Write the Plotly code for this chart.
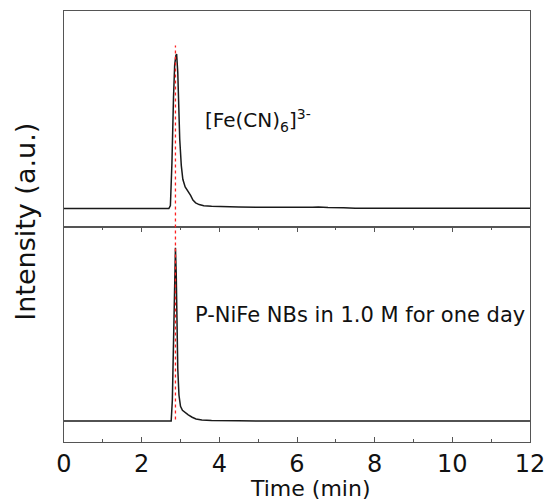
import plotly.graph_objects as go
from plotly.subplots import make_subplots

# Chromatogram of the ferricyanide reference (normalised intensity)
time_ref = [0.0, 2.70, 2.74, 2.78, 2.82, 2.85, 2.88, 2.90, 2.93, 2.96, 2.98, 3.02, 3.06,
            3.12, 3.17, 3.21, 3.26, 3.32, 3.39, 3.48, 3.60, 3.80, 4.00, 4.50, 5.00,
            5.50, 6.00, 6.40, 6.55, 6.65, 6.80, 7.20, 7.40, 7.50, 9.00, 12.0]
int_ref = [0.0, 0.0, 0.02, 0.30, 0.72, 0.93, 0.99, 1.0, 0.88, 0.62, 0.45, 0.28, 0.19,
           0.14, 0.12, 0.11, 0.085, 0.055, 0.037, 0.026, 0.019, 0.015, 0.013, 0.010, 0.008,
           0.007, 0.007, 0.008, 0.011, 0.008, 0.007, 0.006, 0.005, 0.002, 0.002, 0.002]

# Chromatogram of P-NiFe NBs after one day in 1.0 M electrolyte
time_sample = [0.0, 2.76, 2.79, 2.82, 2.85, 2.87, 2.89, 2.91, 2.93, 2.96, 3.00, 3.05,
               3.12, 3.20, 3.30, 3.40, 3.55, 3.80, 4.50, 12.0]
int_sample = [0.0, 0.0, 0.12, 0.55, 0.92, 1.0, 0.85, 0.55, 0.30, 0.15, 0.085, 0.062,
              0.048, 0.036, 0.022, 0.012, 0.006, 0.003, 0.001, 0.0]

peak_time = 2.87

x_ticks = [0, 2, 4, 6, 8, 10, 12]

FONT = "DejaVu Sans, Verdana, sans-serif"
TEXT_COLOR = "#111111"
AXIS_COLOR = "#555555"

fig = make_subplots(rows=2, cols=1, shared_xaxes=True, vertical_spacing=0)

fig.add_trace(go.Scatter(x=time_ref, y=int_ref, mode="lines",
                         line=dict(color="#1a1a1a", width=1.5), showlegend=False),
              row=1, col=1)
fig.add_trace(go.Scatter(x=time_sample, y=int_sample, mode="lines",
                         line=dict(color="#1a1a1a", width=1.5), showlegend=False),
              row=2, col=1)

# Retention-time marker through both panels
fig.add_shape(type="line", xref="x", yref="paper", x0=peak_time, x1=peak_time,
              y0=0.052, y1=0.92, layer="above",
              line=dict(color="#ff2020", width=1.3, dash="dot"))

fig.add_annotation(x=3.57, y=0.57, xref="x", yref="y", xanchor="left", yanchor="middle",
                   text="[Fe(CN)<sub>6</sub>]<sup>3-</sup>", showarrow=False,
                   font=dict(family=FONT, size=20, color=TEXT_COLOR))
fig.add_annotation(x=3.33, y=0.61, xref="x2", yref="y2", xanchor="left", yanchor="middle",
                   text="P-NiFe NBs in 1.0 M for one day", showarrow=False,
                   font=dict(family=FONT, size=21, color=TEXT_COLOR))

common_x = dict(range=[0, 12], showline=True, linecolor=AXIS_COLOR, linewidth=1,
                showgrid=False, zeroline=False, automargin=False)
fig.update_xaxes(common_x, row=1, col=1, ticks="", showticklabels=False, mirror=True)
fig.update_xaxes(common_x, row=2, col=1, mirror="ticks", ticks="inside", ticklen=5,
                 tickwidth=1, tickcolor=AXIS_COLOR, tickvals=x_ticks,
                 ticktext=[str(t) for t in x_ticks],
                 minor=dict(ticks="inside", ticklen=3, tickwidth=1, tickcolor=AXIS_COLOR,
                            dtick=1),
                 tickfont=dict(family=FONT, size=24, color=TEXT_COLOR))

common_y = dict(showline=True, linecolor=AXIS_COLOR, linewidth=1, mirror=True,
                ticks="", showticklabels=False, showgrid=False, zeroline=False,
                automargin=False)
fig.update_yaxes(common_y, row=1, col=1, range=[-0.116, 1.279])
fig.update_yaxes(common_y, row=2, col=1, range=[-0.121, 1.123])

# Axis titles
fig.add_annotation(x=0.528, y=-0.109, xref="paper", yref="paper", text="Time (min)",
                   showarrow=False, xanchor="center", yanchor="middle",
                   font=dict(family=FONT, size=22, color=TEXT_COLOR))
fig.add_annotation(x=-0.0825, y=0.51, xref="paper", yref="paper", text="Intensity (a.u.)",
                   textangle=-90, showarrow=False, xanchor="center", yanchor="middle",
                   font=dict(family=FONT, size=27, color=TEXT_COLOR))

fig.update_layout(width=546, height=501, margin=dict(l=63.5, r=16, t=10.7, b=58.7),
                  plot_bgcolor="white", paper_bgcolor="white")

fig.write_html("out.html")
